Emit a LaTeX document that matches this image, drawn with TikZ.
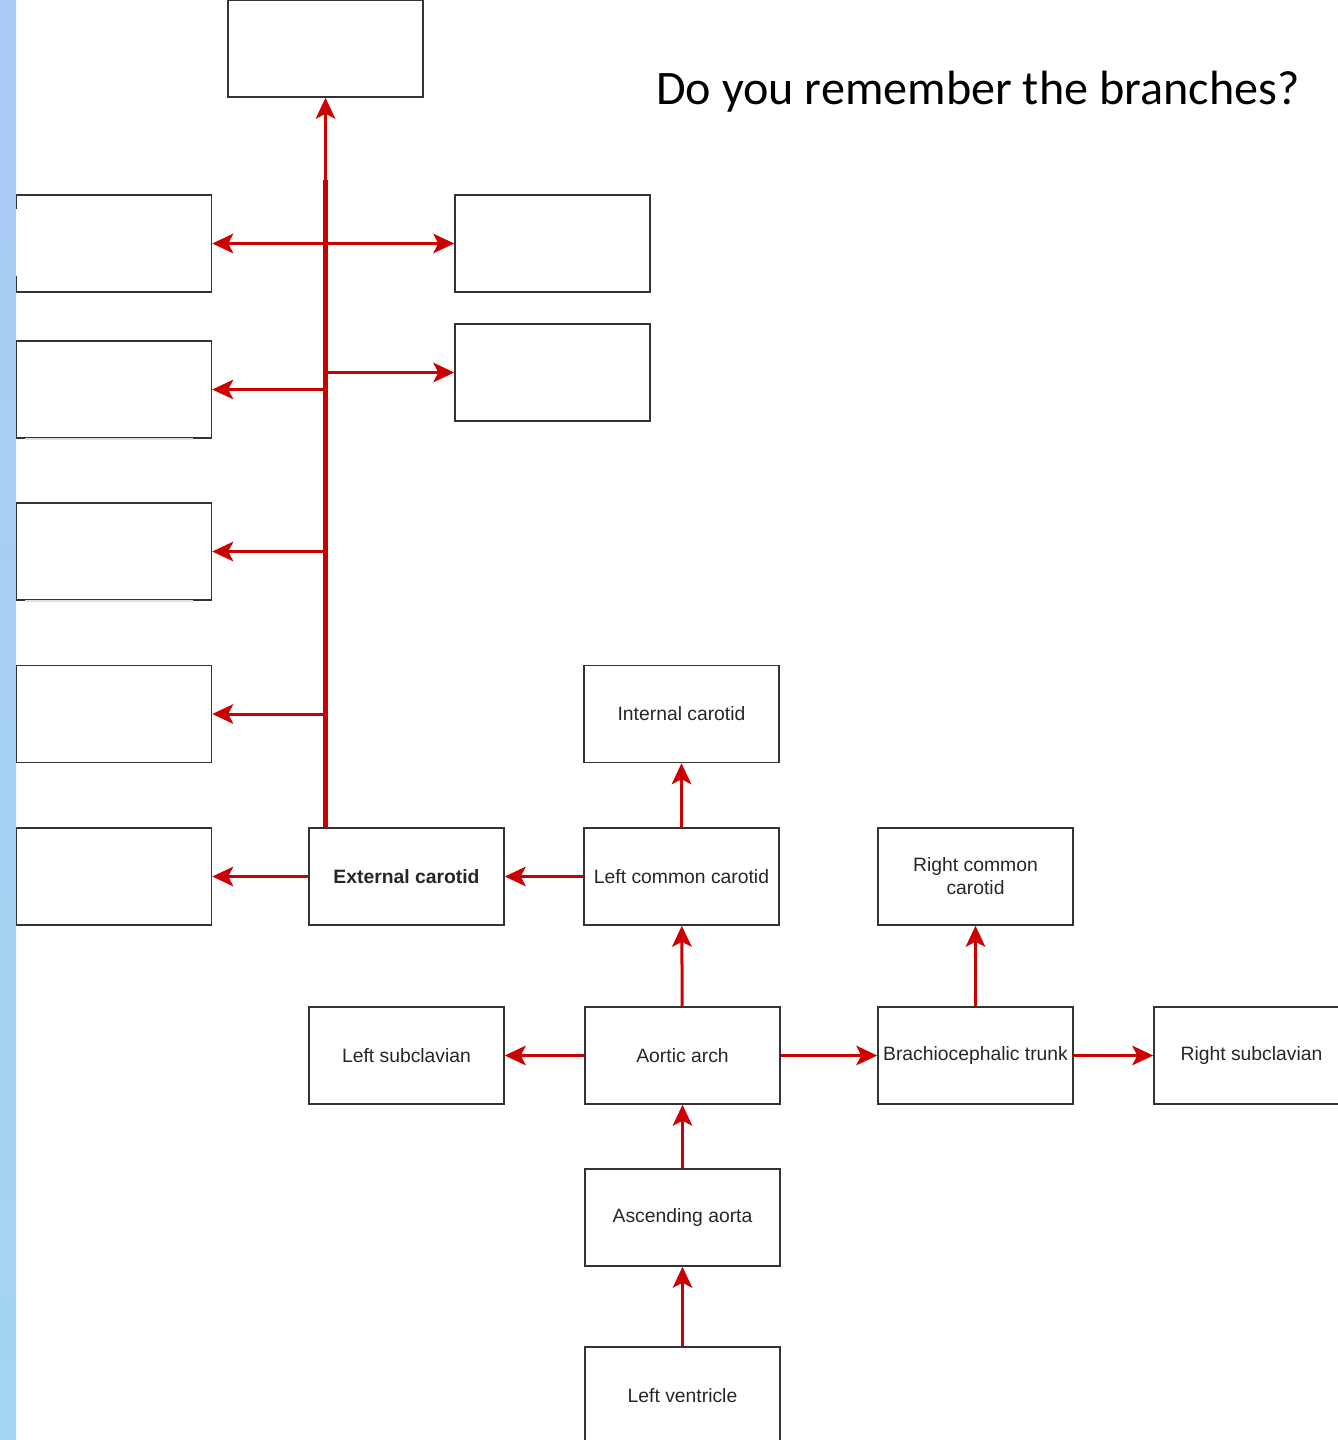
\documentclass[tikz,border=0pt]{standalone}
\usepackage{fontspec}
\setmainfont{Liberation Sans}
\newfontfamily\titlefont{Carlito}
\usetikzlibrary{arrows.meta}

\definecolor{vessel}{HTML}{CC0000}
\definecolor{boxline}{HTML}{333333}
\definecolor{stripA}{HTML}{AACCF5}
\definecolor{stripB}{HTML}{A5D5F1}

\tikzset{
	box/.style={draw=boxline, line width=0.3mm, minimum width=3.9cm, minimum height=1.94cm,
		inner sep=0pt, align=center, text=black!85, font=\fontsize{11}{13}\selectfont},
	flow/.style={draw=vessel, line width=0.6mm, -{Stealth[length=4.2mm, width=3.9mm, inset=1mm]}},
}

\begin{document}
\begin{tikzpicture}[x=0.02cm, y=-0.02cm]
	\useasboundingbox (0,0) rectangle (1338,1440);
	\clip (0,0) rectangle (1338,1440);
	\shade[top color=stripA, bottom color=stripB] (0,0) rectangle (16,1440);

	\node[anchor=base west, inner sep=0pt, font=\titlefont\fontsize{27.4}{32}\selectfont] (title) at (656,104) {Do you remember the branches?};

	% empty boxes to fill in
	\node[box] (top) at (325.5,48.5) {};
	\node[box] (b1) at (114,243.5) {};
	\node[box] (b2) at (114,389.5) {};
	\node[box] (b3) at (114,551.5) {};
	\node[box] (b4) at (114,714) {};
	\node[box] (b5) at (114,876.5) {};
	\node[box] (r1) at (552.5,243.5) {};
	\node[box] (r2) at (552.5,372.5) {};

	\node[box] (ext) at (406.5,876.5) {\bfseries External carotid};
	\node[box] (lcc) at (681.5,876.5) {Left common carotid};
	\node[box] (ic) at (681.5,714) {Internal carotid};
	\node[box] (rcc) at (975.5,876.5) {Right common\\carotid};
	\node[box] (lsub) at (406.5,1055.5) {Left subclavian};
	\node[box] (arch) at (682.5,1055.5) {Aortic arch};
	\node[box] (brach) at (975.5,1055.5) {Brachiocephalic trunk};
	\node[box] (rsub) at (1251.5,1055.5) {Right subclavian};
	\node[box] (asc) at (682.5,1217.5) {Ascending aorta};
	\node[box] (lv) at (682.5,1395.5) {Left ventricle};

	% faded edges
	\draw[white, line width=0.3mm] (b1.north west) ++(0.8,15) -- ++(0,67);
	\draw[gray!25, line width=0.4mm] (b2.south west) ++(9,0) -- ++(168,0);
	\draw[gray!25, line width=0.4mm] (b3.south west) ++(9,0) -- ++(168,0);

	% trunk of the external carotid
	\coordinate (split) at (325.5,180);
	\draw[vessel, line width=1mm] (top.south |- ext.north) -- (split);
	\draw[flow] (top.south |- ext.north) -- (top.south);
	\draw[flow] (top.south |- b1.east) -- (b1.east);
	\draw[flow] (top.south |- r1.west) -- (r1.west);
	\draw[flow] (top.south |- b2.east) -- (b2.east);
	\draw[flow] (top.south |- r2.west) -- (r2.west);
	\draw[flow] (top.south |- b3.east) -- (b3.east);
	\draw[flow] (top.south |- b4.east) -- (b4.east);
	\draw[flow] (ext) -- (b5);

	\draw[flow] (lcc) -- (ext);
	\draw[flow] (lcc) -- (ic);
	\draw[flow] (arch) -- (lcc);
	\draw[flow] (arch) -- (lsub);
	\draw[flow] (arch) -- (brach);
	\draw[flow] (brach) -- (rsub);
	\draw[flow] (brach) -- (rcc);
	\draw[flow] (asc) -- (arch);
	\draw[flow] (lv) -- (asc);
\end{tikzpicture}
\end{document}
